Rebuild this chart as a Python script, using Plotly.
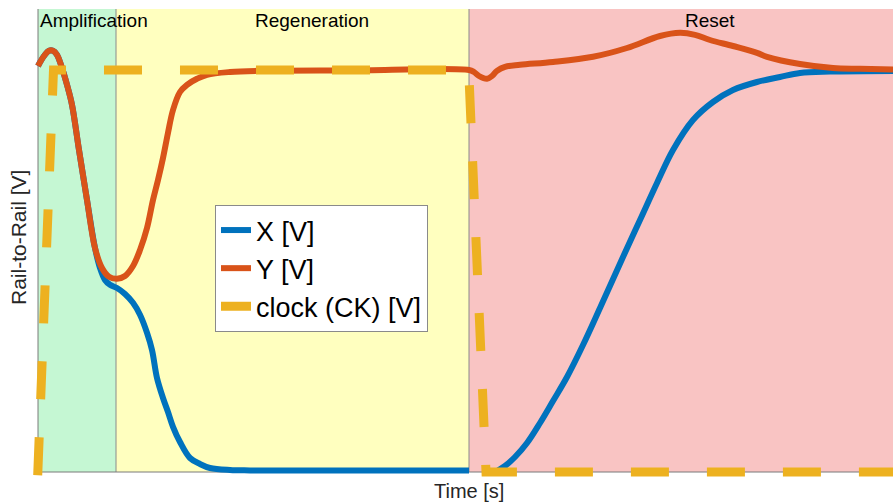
import plotly.graph_objects as go

# ---- data (time in arbitrary units, voltage normalised to rail) ----
t_y = [0, 6, 11, 15, 19, 24, 29, 34, 41, 49, 57, 64, 71, 79, 87, 95, 102, 109, 115, 120, 125,
       130, 135, 142, 149, 159, 169, 192, 225, 312, 431, 436, 441, 449, 454, 459, 467, 482, 515,
       555, 589, 622, 642, 657, 672, 695, 719, 729, 762, 795, 822, 855]
v_y = [1.010, 1.035, 1.048, 1.048, 1.038, 1.005, 0.963, 0.913, 0.800, 0.675, 0.555, 0.505,
       0.483, 0.478, 0.485, 0.510, 0.550, 0.605, 0.675, 0.725, 0.780, 0.843, 0.900, 0.945,
       0.963, 0.978, 0.988, 0.995, 0.998, 0.999, 1.000, 0.995, 0.985, 0.978, 0.985, 0.998,
       1.008, 1.013, 1.020, 1.033, 1.055, 1.085, 1.093, 1.088, 1.075, 1.060, 1.043,
       1.033, 1.015, 1.005, 1.003, 1.001]

t_x = [0, 6, 11, 15, 19, 24, 29, 34, 41, 49, 57, 62, 67, 72, 79, 87, 95, 102, 109, 114, 119,
       125, 130, 135, 142, 152, 162, 172, 192, 212, 300, 380, 431, 445,
       459, 467, 477, 489, 502, 515, 529, 545, 562, 585, 602, 619, 635, 655, 675, 695, 719,
       742, 762, 792, 855]
v_x = [1.010, 1.035, 1.048, 1.048, 1.038, 1.005, 0.963, 0.913, 0.800, 0.675, 0.555, 0.505,
       0.475, 0.463, 0.455, 0.440, 0.418, 0.388, 0.343, 0.300, 0.230, 0.180, 0.145, 0.108,
       0.070, 0.030, 0.015, 0.005, 0.000, -0.001, -0.001, -0.001, -0.001, None,
       -0.0025, 0.010, 0.0325, 0.0675, 0.1175, 0.1725, 0.2325, 0.3125, 0.405, 0.5325, 0.625,
       0.7175, 0.800, 0.875, 0.920, 0.950, 0.970, 0.9825, 0.9925, 0.996, 0.9975]

t_ck = [-0.3, 15.5, 430.7, 448, 855]
v_ck = [-0.013, 1.0, 1.0, -0.005, -0.005]

phases = ["Amplification", "Regeneration", "Reset"]
phase_start = [0, 78, 431]
phase_end = [78, 431, 855]
phase_color = ["#C5F7D3", "#FFFFBF", "#F9C4C3"]
label_pos = [0, 274, 672]

series_names = ["X [V]", "Y [V]", "clock (CK) [V]"]
series_colors = ["#0072BD", "#D95319", "#EDB120"]

V_TOP = 1.1525
V_BOT = -0.005

fig = go.Figure()

for i, (s, e, c) in enumerate(zip(phase_start, phase_end, phase_color)):
    fig.add_shape(type="rect", x0=s, x1=e, y0=V_BOT, y1=V_TOP, xref="x", yref="y",
                  fillcolor=c, line=dict(width=0), layer="below")
for b in phase_start[1:]:
    fig.add_shape(type="line", x0=b, x1=b, y0=V_BOT, y1=V_TOP, xref="x", yref="y",
                  line=dict(color="#8a8a8a", width=1), layer="below")
# axes lines (left, bottom)
fig.add_shape(type="line", x0=0, x1=0, y0=V_BOT, y1=V_TOP, xref="x", yref="y",
              line=dict(color="#7a7a7a", width=1), layer="below")
fig.add_shape(type="line", x0=0, x1=855, y0=V_BOT, y1=V_BOT, xref="x", yref="y",
              line=dict(color="#7a7a7a", width=1), layer="below")

fig.add_trace(go.Scatter(x=t_x, y=v_x, mode="lines", name=series_names[0], connectgaps=False,
                         line=dict(color=series_colors[0], width=6, shape="spline", smoothing=1.0)))
fig.add_trace(go.Scatter(x=t_y, y=v_y, mode="lines", name=series_names[1],
                         line=dict(color=series_colors[1], width=6, shape="spline", smoothing=1.0)))
fig.add_trace(go.Scatter(x=t_ck, y=v_ck, mode="lines", name=series_names[2],
                         line=dict(color=series_colors[2], width=9, dash="38px,38px")))

for name, xp in zip(phases, label_pos):
    fig.add_annotation(x=xp, y=1.125, xref="x", yref="y", text=name, showarrow=False,
                       xanchor="left" if xp == 0 else "center", yanchor="middle",
                       font=dict(size=19, color="#000000"))

# axis titles as annotations
fig.add_annotation(x=(469 - 32) / 861, y=(478 - 491) / 469, xref="paper", yref="paper",
                   text="Time [s]", showarrow=False, xanchor="center", yanchor="middle",
                   font=dict(size=20, color="#262626"))
fig.add_annotation(x=(18 - 32) / 861, y=(478 - 238) / 469, xref="paper", yref="paper",
                   text="Rail-to-Rail [V]", showarrow=False, textangle=-90,
                   xanchor="center", yanchor="middle",
                   font=dict(size=21, color="#262626"))

fig.update_layout(
    width=893, height=504,
    margin=dict(l=32, r=0, t=9, b=26),
    paper_bgcolor="white", plot_bgcolor="white",
    font=dict(family="Liberation Sans, Arial, sans-serif"),
    showlegend=True,
    legend=dict(x=(215 - 32) / 861, y=(478 - 205) / 469, xanchor="left", yanchor="top",
                bgcolor="white", bordercolor="#8a8a8a", borderwidth=1,
                font=dict(size=27, color="#000000"), itemwidth=30,
                tracegroupgap=0),
    xaxis=dict(range=[-6, 855], showgrid=False, zeroline=False, showline=False,
               showticklabels=False, ticks=""),
    yaxis=dict(range=[-0.02, V_TOP], showgrid=False, zeroline=False, showline=False,
               showticklabels=False, ticks=""),
)

fig.write_html("out.html", config={"displayModeBar": False},
               post_script="document.body.style.margin='0';document.body.style.overflow='hidden';")
